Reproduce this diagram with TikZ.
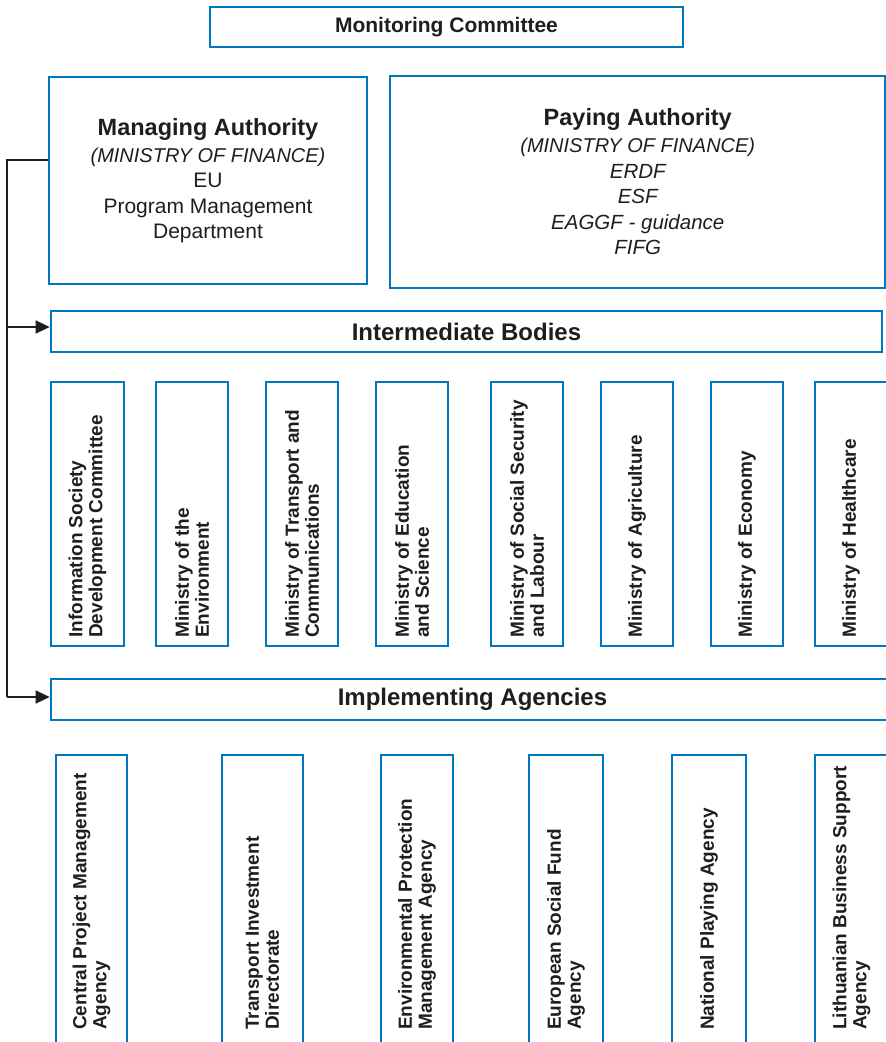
\documentclass[tikz,border=0pt]{standalone}
\usepackage{fontspec}
\setmainfont{Liberation Sans}
\usetikzlibrary{arrows.meta}
\definecolor{frameblue}{RGB}{0,120,193}
\definecolor{ink}{RGB}{30,30,30}
\begin{document}
\begin{tikzpicture}[x=1pt,y=-1pt,
  box/.style={draw=frameblue,line width=2.6pt,rectangle,inner sep=0pt,text=ink,align=center},
  conn/.style={draw=ink,line width=1.3pt},
  tip/.style={-{Triangle[length=14pt,width=13pt]}},
  vtext/.style={rotate=90,anchor=west,align=left,inner sep=0pt,text=ink,
                font=\fontsize{19}{20}\selectfont\bfseries},
  headfont/.style={font=\fontsize{24}{28}\selectfont\bfseries},
]
\path[use as bounding box] (0,0) rectangle (886,1042);
\clip (0,0) rectangle (886,1042);

% top level
\node[box,minimum width=473pt,minimum height=40pt,font=\fontsize{21}{25}\selectfont\bfseries]
  (mon) at (446.5,27) {Monitoring Committee};

\node[box,minimum width=318pt,minimum height=207pt,font=\fontsize{21}{25.5}\selectfont]
  (man) at (208,180.5)
  {{\fontsize{23.5}{27}\selectfont\bfseries Managing Authority}\\[1.5pt]
   {\fontsize{20}{25.5}\selectfont\itshape (MINISTRY OF FINANCE)}\\
   EU\\ Program Management\\ Department};

\node[box,minimum width=495.5pt,minimum height=212pt,font=\fontsize{20.5}{25.5}\selectfont\itshape]
  (pay) at (637.75,182)
  {{\fontsize{23.5}{27}\selectfont\bfseries\upshape Paying Authority}\\[1.5pt]
   {\fontsize{20}{25.5}\selectfont (MINISTRY OF FINANCE)}\\
   ERDF\\ ESF\\ EAGGF - guidance\\ FIFG};

% level bars
\node[box,headfont,minimum width=831pt,minimum height=41pt] (inter) at (466.5,331.5) {Intermediate Bodies};
\node[box,headfont,minimum width=843pt,minimum height=41pt] (impl) at (472.5,699.5) {Implementing Agencies};

% intermediate bodies
\foreach \cx/\bw/\nm/\txt in {
  87.5/73/ib1/{Information Society\\Development Committee},
  192/72/ib2/{Ministry of the\\Environment},
  302/72/ib3/{Ministry of Transport and\\Communications},
  412/72/ib4/{Ministry of Education\\and Science},
  527/72/ib5/{Ministry of Social Security\\and Labour},
  637/72/ib6/{Ministry of Agriculture},
  747/72/ib7/{Ministry of Economy},
  851/72/ib8/{Ministry of Healthcare}} {
  \node[box,minimum width=\bw pt,minimum height=264pt] (\nm) at (\cx,514) {};
  \node[vtext] (\nm-t) at (\cx,638) {\txt};
}

% implementing agencies
\foreach \cx/\bw/\nm/\txt in {
  91.5/71/ia1/{Central Project Management\\Agency},
  262.5/81/ia2/{Transport Investment\\Directorate},
  417/72/ia3/{Environmental Protection\\Management Agency},
  566/74/ia4/{European Social Fund\\Agency},
  709/74/ia5/{National Playing Agency},
  851.5/73/ia6/{Lithuanian Business Support\\Agency}} {
  \node[box,minimum width=\bw pt,minimum height=320pt] (\nm) at (\cx,915) {};
  \node[vtext] (\nm-t) at (\cx,1030) {\txt};
}

% reporting line from the managing authority
\coordinate (jt) at (7,160);
\coordinate (j1) at (7,327);
\coordinate (j2) at (7,697);
\draw[conn] (jt -| man.west) -- (jt) -- (j2);
\draw[conn,tip] (j1) -- (j1 -| inter.west);
\draw[conn,tip] (j2) -- (j2 -| impl.west);
\end{tikzpicture}
\end{document}
